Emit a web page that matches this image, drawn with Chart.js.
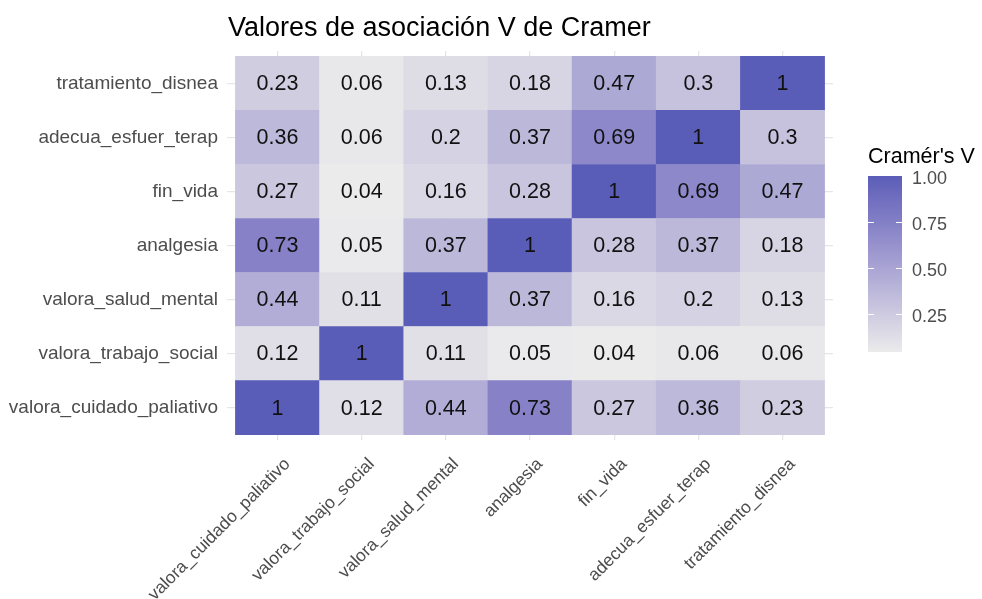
<!DOCTYPE html>
<html>
<head>
<meta charset="utf-8">
<script src="https://cdn.jsdelivr.net/npm/chart.js@4.4.1/dist/chart.umd.min.js"></script>
<style>
  html, body { margin: 0; padding: 0; background: #ffffff; }
  #wrap { width: 982px; height: 599px; }
</style>
</head>
<body>
<div id="wrap"><canvas id="heatChart" width="982" height="599"></canvas></div>
<script>
// variables, in axis order (x left -> right, y bottom -> top)
const variables = [
  'valora_cuidado_paliativo', 'valora_trabajo_social', 'valora_salud_mental',
  'analgesia', 'fin_vida', 'adecua_esfuer_terap', 'tratamiento_disnea'
];

// Cramér's V per row (one row per y variable, columns follow `variables`)
const vCuidadoPaliativo = [1, 0.12, 0.44, 0.73, 0.27, 0.36, 0.23];
const vTrabajoSocial    = [0.12, 1, 0.11, 0.05, 0.04, 0.06, 0.06];
const vSaludMental      = [0.44, 0.11, 1, 0.37, 0.16, 0.2, 0.13];
const vAnalgesia        = [0.73, 0.05, 0.37, 1, 0.28, 0.37, 0.18];
const vFinVida          = [0.27, 0.04, 0.16, 0.28, 1, 0.69, 0.47];
const vAdecuaEsfuerzo   = [0.36, 0.06, 0.2, 0.37, 0.69, 1, 0.3];
const vTratDisnea       = [0.23, 0.06, 0.13, 0.18, 0.47, 0.3, 1];

const rows = [vCuidadoPaliativo, vTrabajoSocial, vSaludMental, vAnalgesia, vFinVida, vAdecuaEsfuerzo, vTratDisnea];

const legendTicks = [0.25, 0.5, 0.75, 1.0];

const TITLE = 'Valores de asociación V de Cramer';
const LEGEND_TITLE = "Cramér's V";

// colour scale (ggplot-like gradient, interpolated in Lab)
const LOW = '#ebebeb';
const HIGH = '#5a5db8';
const allValues = rows.flat();
const vMin = Math.min(...allValues);
const vMax = Math.max(...allValues);

function hexToRgb(h) {
  return [1, 3, 5].map(i => parseInt(h.slice(i, i + 2), 16));
}
function rgbToLab(rgb) {
  const lin = rgb.map(c => {
    c /= 255;
    return c <= 0.04045 ? c / 12.92 : Math.pow((c + 0.055) / 1.055, 2.4);
  });
  const X = (0.4124 * lin[0] + 0.3576 * lin[1] + 0.1805 * lin[2]) / 0.95047;
  const Y = (0.2126 * lin[0] + 0.7152 * lin[1] + 0.0722 * lin[2]);
  const Z = (0.0193 * lin[0] + 0.1192 * lin[1] + 0.9505 * lin[2]) / 1.08883;
  const f = t => t > 0.008856 ? Math.cbrt(t) : 7.787 * t + 16 / 116;
  const fx = f(X), fy = f(Y), fz = f(Z);
  return [116 * fy - 16, 500 * (fx - fy), 200 * (fy - fz)];
}
function labToRgb(lab) {
  const fy = (lab[0] + 16) / 116;
  const fx = fy + lab[1] / 500;
  const fz = fy - lab[2] / 200;
  const finv = t => t * t * t > 0.008856 ? t * t * t : (t - 16 / 116) / 7.787;
  const X = finv(fx) * 0.95047, Y = finv(fy), Z = finv(fz) * 1.08883;
  const lin = [
    3.2406 * X - 1.5372 * Y - 0.4986 * Z,
    -0.9689 * X + 1.8758 * Y + 0.0415 * Z,
    0.0557 * X - 0.2040 * Y + 1.0570 * Z
  ];
  return lin.map(c => {
    c = c <= 0.0031308 ? 12.92 * c : 1.055 * Math.pow(c, 1 / 2.4) - 0.055;
    return Math.round(Math.min(1, Math.max(0, c)) * 255);
  });
}
const lowLab = rgbToLab(hexToRgb(LOW));
const highLab = rgbToLab(hexToRgb(HIGH));
function colorFor(v) {
  const t = Math.min(1, Math.max(0, (v - vMin) / (vMax - vMin)));
  const lab = lowLab.map((c, i) => c + (highLab[i] - c) * t);
  const rgb = labToRgb(lab);
  return `rgb(${rgb[0]},${rgb[1]},${rgb[2]})`;
}

// one floating-bar dataset per row, each bar is one tile
const datasets = rows.map((row, r) => ({
  label: variables[r],
  data: row.map((v, c) => ({ x: c + 1, y: [r + 0.5, r + 1.5] })),
  backgroundColor: row.map(colorFor),
  borderWidth: 0,
  grouped: false,
  barPercentage: 1,
  categoryPercentage: 1
}));

const FONT = '"Liberation Sans", Arial, sans-serif';
const AXIS_TEXT = '#4d4d4d';
const GRID = '#e6e6e6';

function categoryTicks(scale) {
  scale.ticks = variables.map((_, i) => ({ value: i + 1 }));
}

const cellLabels = {
  id: 'cellLabels',
  afterDatasetsDraw(chart) {
    const ctx = chart.ctx;
    ctx.save();
    ctx.font = `21.5px ${FONT}`;
    ctx.fillStyle = '#111111';
    ctx.textAlign = 'center';
    ctx.textBaseline = 'middle';
    rows.forEach((row, r) => {
      chart.getDatasetMeta(r).data.forEach((bar, c) => {
        const p = bar.getCenterPoint();
        ctx.fillText(String(row[c]), p.x, p.y + 1);
      });
    });
    ctx.restore();
  }
};

const titleAndLegend = {
  id: 'titleAndLegend',
  afterDraw(chart) {
    const ctx = chart.ctx;
    ctx.save();
    // title
    ctx.fillStyle = '#000000';
    ctx.font = `27px ${FONT}`;
    ctx.textAlign = 'left';
    ctx.textBaseline = 'alphabetic';
    ctx.fillText(TITLE, 228, 36);

    // colour bar
    const bx = 868, bw = 34, top = 176, bottom = 352;
    const yFor = v => bottom - (v - vMin) / (vMax - vMin) * (bottom - top);
    const grad = ctx.createLinearGradient(0, bottom, 0, top);
    for (let i = 0; i <= 20; i++) {
      grad.addColorStop(i / 20, colorFor(vMin + (vMax - vMin) * i / 20));
    }
    ctx.fillStyle = grad;
    ctx.fillRect(bx, top, bw, bottom - top);

    ctx.fillStyle = '#000000';
    ctx.font = `21.5px ${FONT}`;
    ctx.fillText(LEGEND_TITLE, 868, 163);

    ctx.strokeStyle = '#ffffff';
    ctx.lineWidth = 1;
    ctx.font = `18px ${FONT}`;
    ctx.fillStyle = AXIS_TEXT;
    ctx.textBaseline = 'middle';
    legendTicks.forEach(v => {
      const y = Math.round(yFor(v)) + 0.5;
      if (v < vMax) {
        ctx.beginPath();
        ctx.moveTo(bx, y); ctx.lineTo(bx + 6, y);
        ctx.moveTo(bx + bw - 6, y); ctx.lineTo(bx + bw, y);
        ctx.stroke();
      }
      ctx.fillText(v.toFixed(2), 912, y + 3);
    });
    ctx.restore();
  }
};

new Chart(document.getElementById('heatChart'), {
  type: 'bar',
  data: { datasets },
  options: {
    responsive: false,
    animation: false,
    layout: { padding: { top: 51, right: 149, left: 0, bottom: 0 } },
    plugins: {
      legend: { display: false },
      tooltip: { enabled: false },
      title: { display: false }
    },
    scales: {
      x: {
        type: 'linear',
        min: 0.4,
        max: 7.6,
        offset: false,
        afterBuildTicks: categoryTicks,
        afterFit: scale => { scale.height = 159; },
        grid: { color: GRID, lineWidth: 1.3, drawTicks: false, offset: false },
        border: { display: false },
        ticks: {
          autoSkip: false,
          minRotation: 45,
          maxRotation: 45,
          padding: 14,
          labelOffset: 10,
          color: AXIS_TEXT,
          font: { family: FONT, size: 17.5 },
          callback: v => variables[Math.round(v) - 1]
        }
      },
      y: {
        type: 'linear',
        min: 0.4,
        max: 7.6,
        afterBuildTicks: categoryTicks,
        afterFit: scale => { scale.width = 227; },
        grid: { color: GRID, lineWidth: 1.3, drawTicks: false },
        border: { display: false },
        ticks: {
          autoSkip: false,
          padding: 9,
          color: AXIS_TEXT,
          font: { family: FONT, size: 19 },
          callback: v => variables[Math.round(v) - 1]
        }
      }
    }
  },
  plugins: [cellLabels, titleAndLegend]
});
</script>
</body>
</html>
